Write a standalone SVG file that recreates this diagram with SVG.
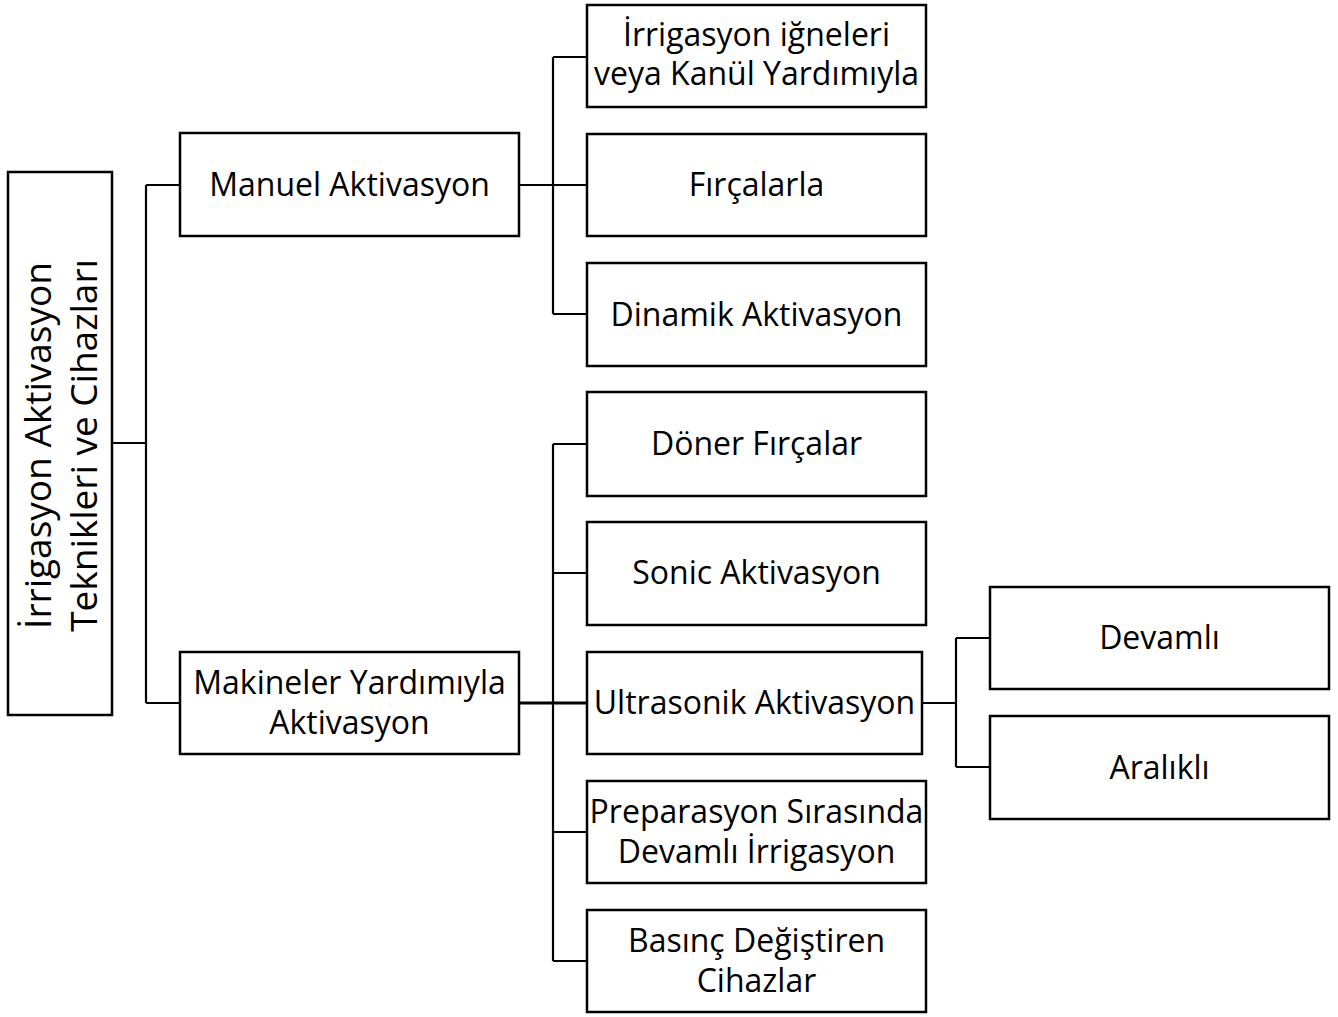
<svg xmlns="http://www.w3.org/2000/svg" width="1338" height="1017" viewBox="0 0 1338 1017">
<style>
.box{fill:#fff;stroke:#000;stroke-width:2.5}
.lbl{font-family:"Open Sans","Noto Sans",sans-serif;font-size:32px;fill:#000;text-anchor:middle}
.root{font-size:37px}
.conn{fill:none;stroke:#000;stroke-width:2.2}
</style>
<rect width="1338" height="1017" fill="#fff"/>
<g id="connectors">
<path class="conn" d="M112,443 H146 M146,185 V703 M146,185 H180 M146,703 H180"/>
<path class="conn" d="M519,185 H587 M553,57 V314 M553,57 H587 M553,314 H587"/>
<path class="conn" d="M519,703 H587" style="stroke-width:3"/>
<path class="conn" d="M553,444 V961 M553,444 H587 M553,573 H587 M553,832 H587 M553,961 H587"/>
<path class="conn" d="M922,703 H956 M956,638 V767 M956,638 H990 M956,767 H990"/>
</g>
<g id="root">
<rect class="box" x="8" y="172" width="104" height="543"/>
<text class="lbl root" transform="translate(0,445.5) rotate(-90)"><tspan x="0" y="51">İrrigasyon Aktivasyon</tspan><tspan x="0" y="97">Teknikleri ve Cihazları</tspan></text>
</g>
<g id="manuel">
<rect class="box" x="180" y="133" width="339" height="103"/>
<text class="lbl" x="349.5" y="196">Manuel Aktivasyon</text>
</g>
<g id="makineler">
<rect class="box" x="180" y="652" width="339" height="102"/>
<text class="lbl"><tspan x="349.5" y="694">Makineler Yardımıyla</tspan><tspan x="349.5" y="734">Aktivasyon</tspan></text>
</g>
<g id="igne">
<rect class="box" x="587" y="5" width="339" height="102"/>
<text class="lbl"><tspan x="756.5" y="46">İrrigasyon iğneleri</tspan><tspan x="756.5" y="85">veya Kanül Yardımıyla</tspan></text>
</g>
<g id="fircalarla">
<rect class="box" x="587" y="134" width="339" height="102"/>
<text class="lbl" x="756.5" y="196">Fırçalarla</text>
</g>
<g id="dinamik">
<rect class="box" x="587" y="263" width="339" height="103"/>
<text class="lbl" x="756.5" y="326">Dinamik Aktivasyon</text>
</g>
<g id="doner">
<rect class="box" x="587" y="392" width="339" height="104"/>
<text class="lbl" x="756.5" y="455">Döner Fırçalar</text>
</g>
<g id="sonic">
<rect class="box" x="587" y="522" width="339" height="103"/>
<text class="lbl" x="756.5" y="584">Sonic Aktivasyon</text>
</g>
<g id="ultrasonik">
<rect class="box" x="587" y="652" width="335" height="102"/>
<text class="lbl" x="754.5" y="714">Ultrasonik Aktivasyon</text>
</g>
<g id="preparasyon">
<rect class="box" x="587" y="781" width="339" height="102"/>
<text class="lbl"><tspan x="756.5" y="823">Preparasyon Sırasında</tspan><tspan x="756.5" y="863">Devamlı İrrigasyon</tspan></text>
</g>
<g id="basinc">
<rect class="box" x="587" y="910" width="339" height="102"/>
<text class="lbl"><tspan x="756.5" y="952">Basınç Değiştiren</tspan><tspan x="756.5" y="992">Cihazlar</tspan></text>
</g>
<g id="devamli">
<rect class="box" x="990" y="587" width="339" height="102"/>
<text class="lbl" x="1159.5" y="649">Devamlı</text>
</g>
<g id="aralikli">
<rect class="box" x="990" y="716" width="339" height="103"/>
<text class="lbl" x="1159.5" y="779">Aralıklı</text>
</g>
</svg>
